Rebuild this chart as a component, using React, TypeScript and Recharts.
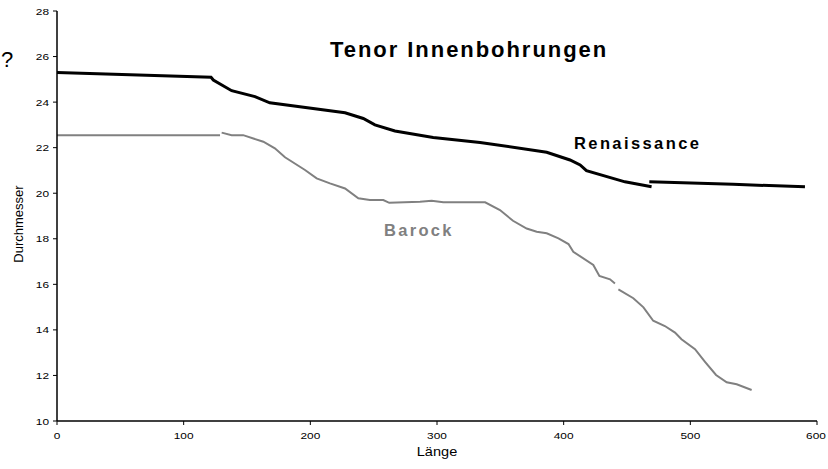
import React from "react";
import { LineChart, Line, XAxis, YAxis, Customized } from "recharts";

// Renaissance (two segments)
const renX1 = [0, 121.6, 123.4, 137.9, 156.3, 168, 227.4, 241.8, 251, 266.8, 297, 334, 386.6, 405, 413, 418, 448.4, 469.4];
const renY1 = [25.3, 25.09, 24.97, 24.5, 24.24, 23.97, 23.53, 23.28, 23.0, 22.73, 22.45, 22.23, 21.8, 21.46, 21.24, 20.99, 20.5, 20.28];
const renX2 = [467.6, 533.7, 590.5];
const renY2 = [20.5, 20.39, 20.28];

// Barock (three segments)
const barX1 = [0, 128.7];
const barY1 = [22.55, 22.55];
const barX2 = [130, 137.9, 147, 162.9, 172, 180, 195.8, 205, 215.5, 227.4, 237.9, 247, 257.6, 262.3, 286.6, 295.8, 305, 338, 349.7, 360, 370.8, 378.7, 386.6, 395.9, 403.8, 407.6, 423.4, 428.2, 436.6, 440.5];
const barY2 = [22.66, 22.55, 22.55, 22.26, 21.97, 21.58, 21.02, 20.65, 20.43, 20.21, 19.78, 19.7, 19.7, 19.58, 19.63, 19.67, 19.6, 19.6, 19.26, 18.79, 18.45, 18.31, 18.24, 18.02, 17.77, 17.43, 16.85, 16.37, 16.22, 16.04];
const barX3 = [443.2, 455, 463, 470.7, 479.9, 487.9, 493, 503.7, 511.6, 520.3, 528.7, 536.6, 548.4];
const barY3 = [15.78, 15.39, 14.99, 14.4, 14.17, 13.88, 13.59, 13.15, 12.6, 12.02, 11.7, 11.61, 11.36];

const xTicks = [0, 100, 200, 300, 400, 500, 600];
const yTicks = [10, 12, 14, 16, 18, 20, 22, 24, 26, 28];

const title = "Tenor Innenbohrungen";
const xLabel = "Länge";
const yLabel = "Durchmesser";
const renLabel = "Renaissance";
const barLabel = "Barock";

const zip = (xs: number[], ys: number[]) => xs.map((x, i) => ({ x, y: ys[i] }));

const FONT = "'Liberation Sans', Arial, sans-serif";
const GRAY = "#808080";

const XTick = (props: any) => {
  const { x, y, payload } = props;
  return (
    <text transform={`translate(${x},${y + 12}) scale(1.25,1)`} textAnchor="middle" fontSize={9.5} fontFamily={FONT} fill="#000">
      {payload.value}
    </text>
  );
};

const YTick = (props: any) => {
  const { x, y, payload } = props;
  return (
    <text transform={`translate(${x - 2},${y + 3.5}) scale(1.25,1)`} textAnchor="end" fontSize={9.5} fontFamily={FONT} fill="#000">
      {payload.value}
    </text>
  );
};

const Annotations = () => (
  <g fontFamily={FONT}>
    <text x={330} y={57} fontSize={22} fontWeight="bold" letterSpacing={1.95} fill="#000">{title}</text>
    <text x={574} y={149} fontSize={16.5} fontWeight="bold" letterSpacing={2.4} fill="#000">{renLabel}</text>
    <text x={384} y={235.5} fontSize={16.5} fontWeight="bold" letterSpacing={2.3} fill={GRAY}>{barLabel}</text>
    <text x={1} y={67} fontSize={22} fill="#000">?</text>
    <text transform="translate(437,456) scale(1.12,1)" fontSize={13} textAnchor="middle" fill="#000">{xLabel}</text>
    <text transform="translate(23,224) rotate(-90)" fontSize={13} textAnchor="middle" fill="#000">{yLabel}</text>
  </g>
);

export default function App() {
  return (
    <div style={{ position: "absolute", left: 0, top: 0, width: 828, height: 469, background: "#fff" }}>
      <LineChart width={828} height={469} margin={{ top: 11, right: 11, bottom: 18, left: 0 }}>
        <XAxis
          dataKey="x"
          type="number"
          domain={[0, 600]}
          ticks={xTicks}
          allowDataOverflow
          height={30}
          tickSize={4}
          tickMargin={2}
          stroke="#000"
          tick={<XTick />}
          axisLine={{ stroke: "#000", strokeWidth: 1.5 }}
          tickLine={{ stroke: "#000" }}
        />
        <XAxis xAxisId="top" orientation="top" type="number" domain={[0, 600]} height={0} tick={false} tickLine={false} axisLine={{ stroke: GRAY }} />
        <YAxis
          dataKey="y"
          type="number"
          domain={[10, 28]}
          ticks={yTicks}
          allowDataOverflow
          width={57}
          tickSize={4}
          tickMargin={2}
          tick={<YTick />}
          axisLine={{ stroke: "#000", strokeWidth: 1.5 }}
          tickLine={{ stroke: "#000" }}
        />
        <YAxis yAxisId="right" orientation="right" type="number" domain={[10, 28]} width={0} tick={false} tickLine={false} axisLine={{ stroke: GRAY }} />
        <Line data={zip(barX1, barY1)} dataKey="y" stroke={GRAY} strokeWidth={2} dot={false} isAnimationActive={false} type="linear" />
        <Line data={zip(barX2, barY2)} dataKey="y" stroke={GRAY} strokeWidth={2} dot={false} isAnimationActive={false} type="linear" />
        <Line data={zip(barX3, barY3)} dataKey="y" stroke={GRAY} strokeWidth={2} dot={false} isAnimationActive={false} type="linear" />
        <Line data={zip(renX1, renY1)} dataKey="y" stroke="#000" strokeWidth={3} dot={false} isAnimationActive={false} type="linear" />
        <Line data={zip(renX2, renY2)} dataKey="y" stroke="#000" strokeWidth={3} dot={false} isAnimationActive={false} type="linear" />
        <Customized component={Annotations} />
      </LineChart>
    </div>
  );
}
